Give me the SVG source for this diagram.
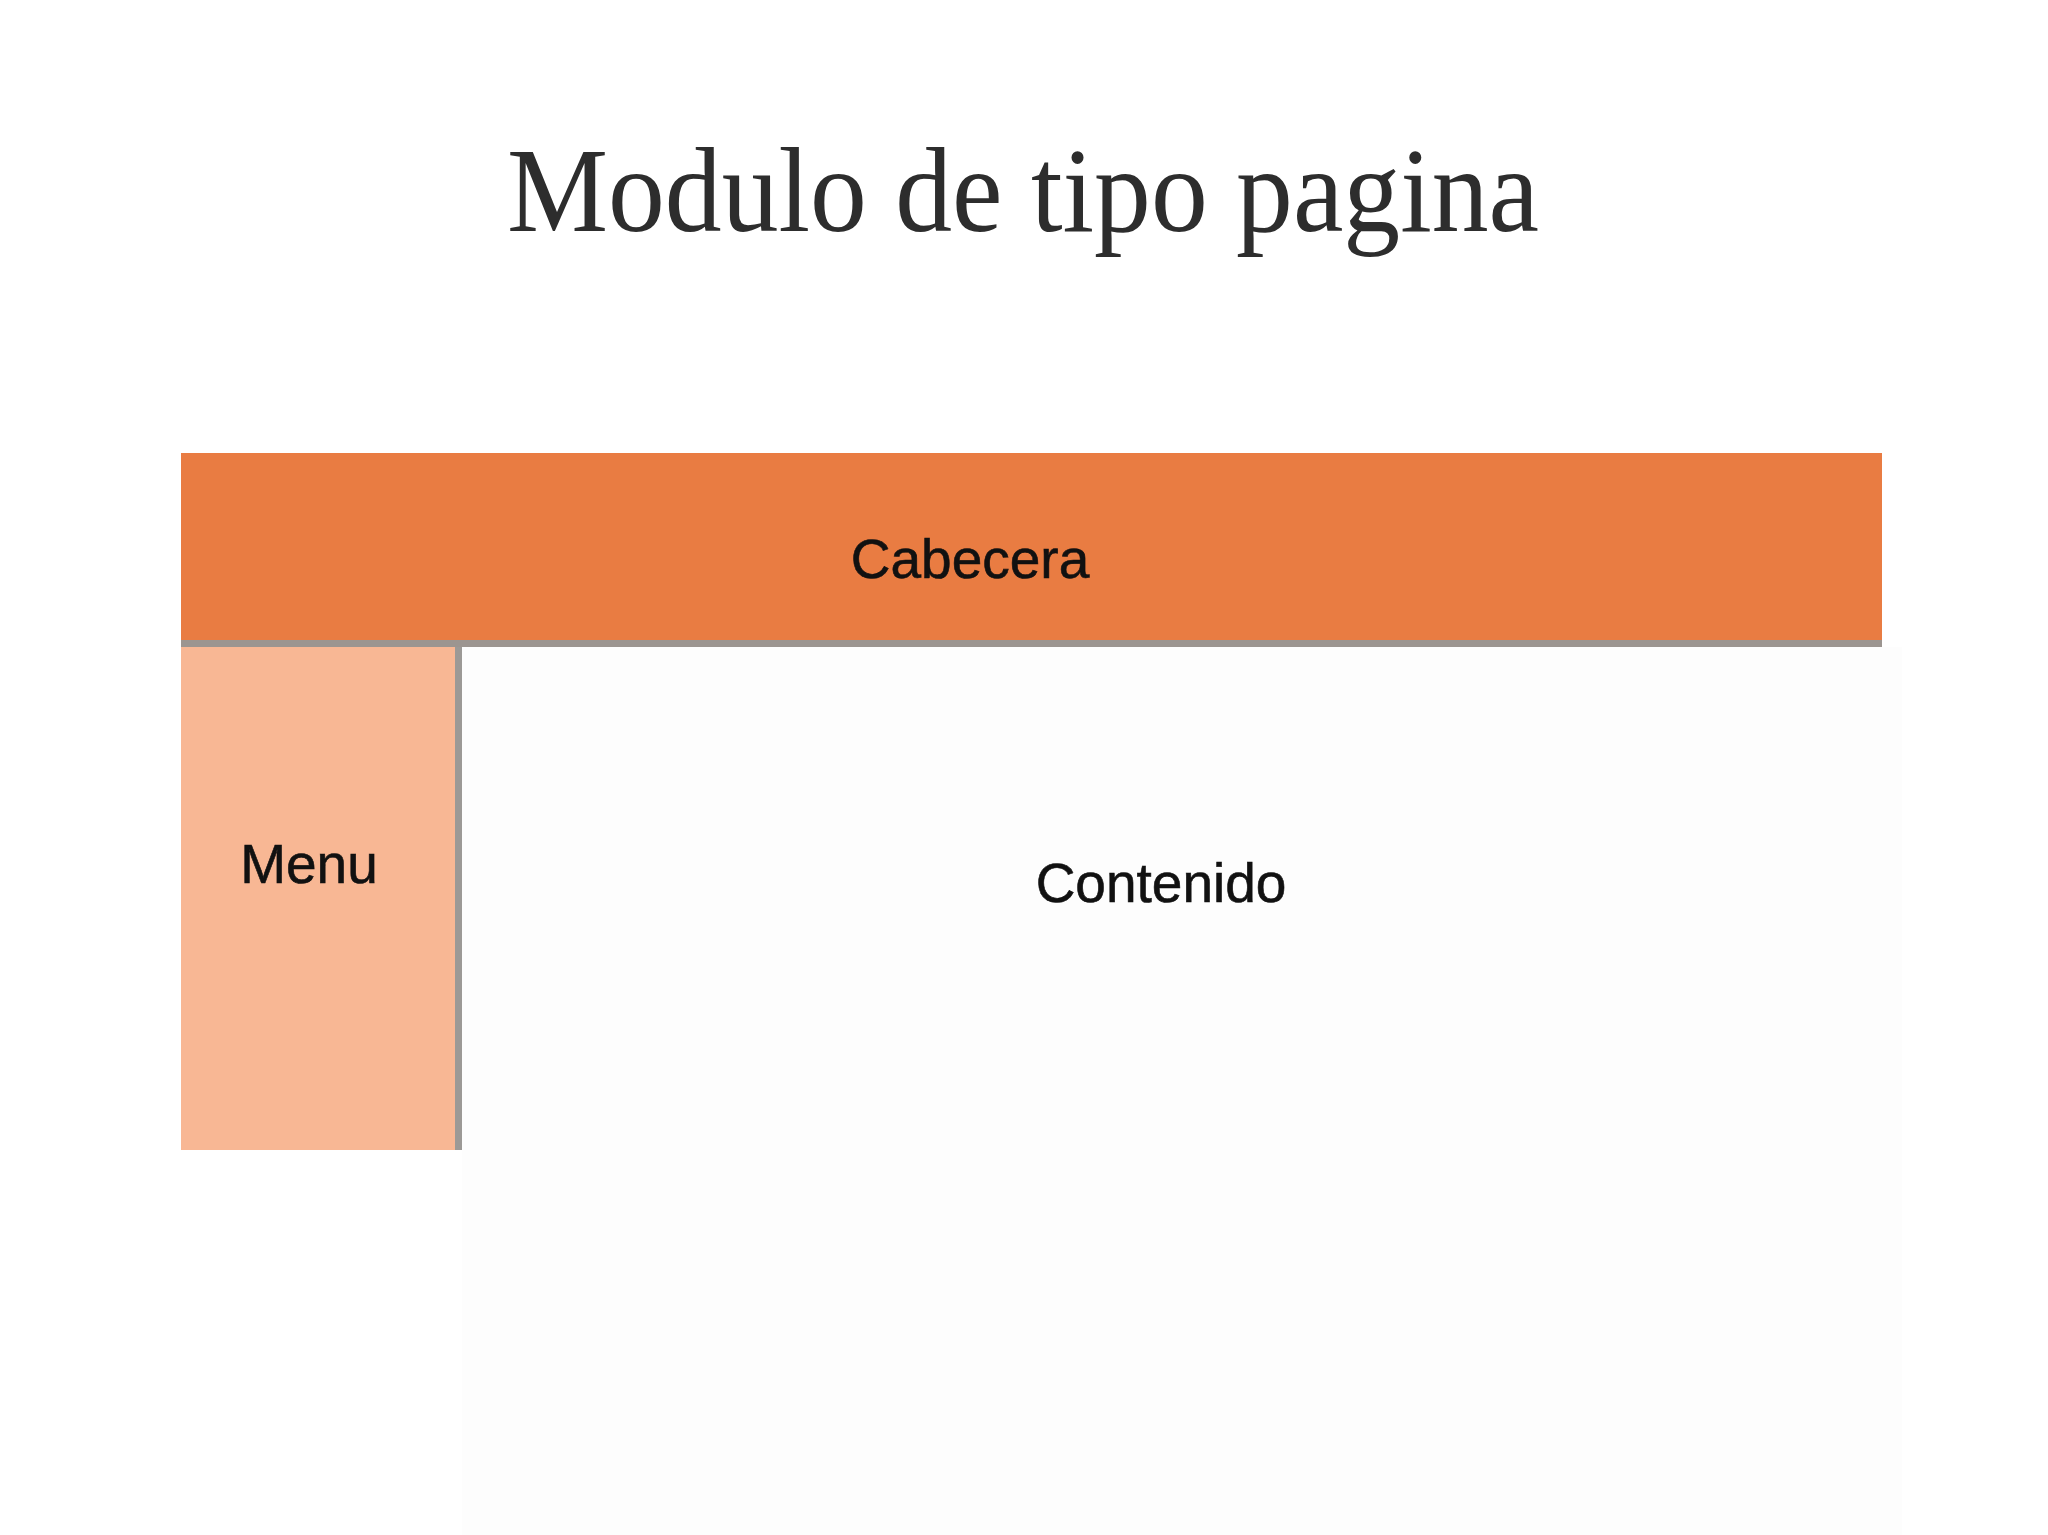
<svg xmlns="http://www.w3.org/2000/svg" width="2048" height="1535" viewBox="0 0 2048 1535">
<style>
.lbl{font-family:"Liberation Sans",Arial,sans-serif;font-size:55px;fill:#111;text-anchor:middle;stroke:#111;stroke-width:0.6}
.title{font-family:"Liberation Serif","Times New Roman",serif;font-size:120px;fill:#2d2d2d;text-anchor:middle}
</style>
<rect width="2048" height="1535" fill="#ffffff"/>
<text class="title" x="1023" y="231" textLength="1032" lengthAdjust="spacingAndGlyphs">Modulo de tipo pagina</text>
<g id="contenido">
<rect x="462" y="647" width="1440" height="888" fill="#fdfdfd"/>
<text class="lbl" x="1161" y="902">Contenido</text>
</g>
<g id="cabecera">
<rect x="181" y="453" width="1701" height="188" fill="#e97c42"/>
<rect x="181" y="640" width="1701" height="7" fill="#9c9590"/>
<text class="lbl" x="970" y="578">Cabecera</text>
</g>
<g id="menu">
<rect x="181" y="647" width="275" height="503" fill="#f8b794"/>
<rect x="455" y="647" width="7" height="503" fill="#9c9996"/>
<text class="lbl" x="309" y="883">Menu</text>
</g>
<g id="connectors"/>
</svg>
